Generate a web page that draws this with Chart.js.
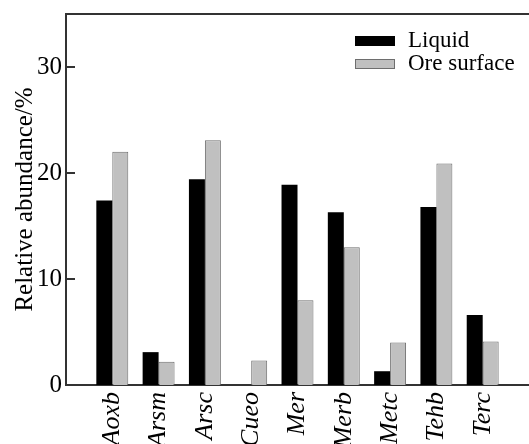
<!DOCTYPE html>
<html><head><meta charset="utf-8">
<script src="https://cdn.jsdelivr.net/npm/chart.js@4/dist/chart.umd.min.js"></script>
<style>html,body{margin:0;padding:0;background:#fff;overflow:hidden}#wrap{width:529px;height:444px}</style>
</head><body><div id="wrap"><canvas id="c" width="529" height="444"></canvas></div>
<script>
const categories = ['Aoxb','Arsm','Arsc','Cueo','Mer','Merb','Metc','Tehb','Terc'];
const liquid = [17.4, 3.1, 19.4, 0, 18.9, 16.3, 1.3, 16.8, 6.6];
const oreSurface = [22.0, 2.2, 23.1, 2.3, 8.0, 13.0, 4.0, 20.9, 4.1];
const yTicks = [0, 10, 20, 30];
const seriesNames = ['Liquid', 'Ore surface'];

const serif = '"Liberation Serif", "Times New Roman", serif';
const labels = [''].concat(categories, ['']);
const pad = arr => [null].concat(arr, [null]);

const decor = {
  id: 'decor',
  afterDraw(chart) {
    const ctx = chart.ctx, a = chart.chartArea, y = chart.scales.y;
    ctx.save();
    ctx.strokeStyle = '#333';
    ctx.lineWidth = 2;
    ctx.beginPath(); ctx.moveTo(a.left - 1, a.top); ctx.lineTo(a.right, a.top); ctx.stroke();
    y.ticks.forEach(t => {
      const py = Math.round(y.getPixelForValue(t.value));
      ctx.beginPath(); ctx.moveTo(a.left, py); ctx.lineTo(a.left + 9, py); ctx.stroke();
    });
    ctx.font = '23px ' + serif;
    ctx.textBaseline = 'middle';
    ctx.textAlign = 'left';
    chart.data.datasets.forEach((ds, i) => {
      const top = 36 + i * 23;
      ctx.fillStyle = ds.backgroundColor;
      ctx.fillRect(355, top, 40, 10);
      ctx.lineWidth = 1;
      ctx.strokeStyle = ds.borderColor;
      ctx.strokeRect(355.5, top + 0.5, 39, 9);
      ctx.fillStyle = '#000';
      ctx.fillText(ds.label, 408, top + 5);
    });
    ctx.restore();
  }
};

new Chart(document.getElementById('c'), {
  type: 'bar',
  data: {
    labels: labels,
    datasets: [
      { label: seriesNames[0], data: pad(liquid), backgroundColor: '#000000', borderColor: '#000000', borderWidth: 0 },
      { label: seriesNames[1], data: pad(oreSurface), backgroundColor: '#c0c0c0', borderColor: '#6e6e6e', borderWidth: 1 }
    ]
  },
  options: {
    responsive: false,
    animation: false,
    devicePixelRatio: 1,
    layout: { padding: { top: 14, right: 0, left: 0, bottom: 0 } },
    datasets: { bar: { categoryPercentage: 0.69, barPercentage: 1.0 } },
    plugins: { legend: { display: false }, tooltip: { enabled: false } },
    scales: {
      x: {
        offset: false,
        grid: { display: false, drawTicks: false },
        border: { display: true, color: '#333', width: 2 },
        ticks: {
          autoSkip: false, minRotation: 90, maxRotation: 90, padding: 7, color: '#000',
          font: { family: serif, size: 26, style: 'italic' }
        },
        afterFit(s) { s.height = 59; s.paddingLeft = 0; s.paddingRight = 0; }
      },
      y: {
        min: 0, max: 35,
        grid: { display: false, drawTicks: false },
        border: { display: true, color: '#333', width: 2 },
        ticks: { color: '#000', padding: 4, includeBounds: false, font: { family: serif, size: 25 } },
        afterBuildTicks(s) { s.ticks = yTicks.map(v => ({ value: v })); },
        title: { display: true, text: 'Relative abundance/%', color: '#000', font: { family: serif, size: 25 }, padding: { top: 10, bottom: 0 } },
        afterFit(s) { s.width = 66; s.paddingTop = 0; s.paddingBottom = 0; }
      }
    }
  },
  plugins: [decor]
});
</script>
</body></html>
